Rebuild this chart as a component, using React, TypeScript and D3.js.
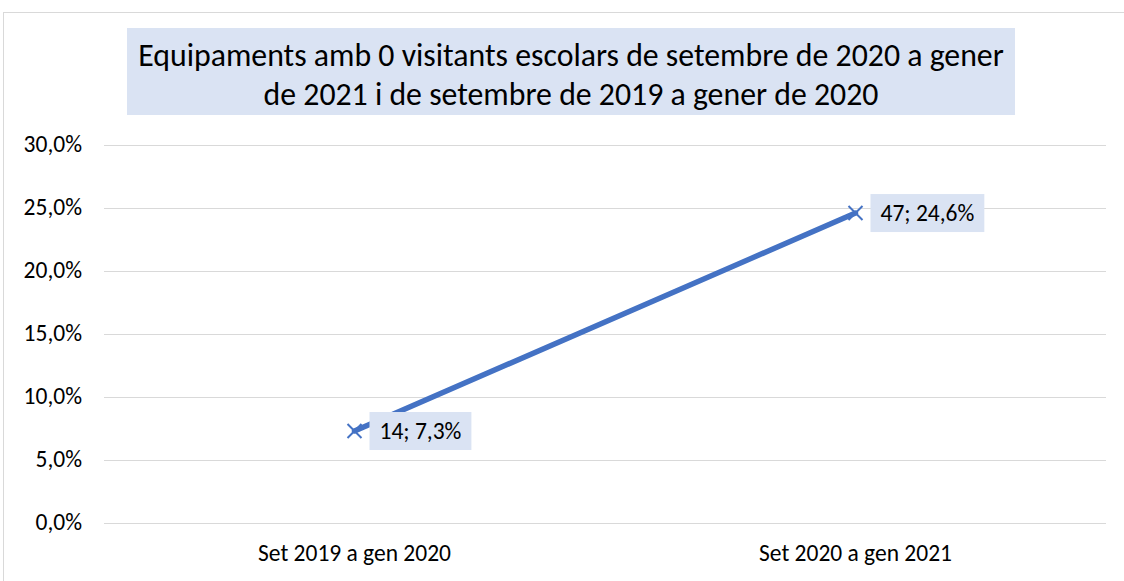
import React, { useEffect, useRef } from 'react';
import * as d3 from 'd3';

const categories = ['Set 2019 a gen 2020', 'Set 2020 a gen 2021'];
const counts = [14, 47];
const percents = [7.3, 24.6];
const yTicks = [0, 5, 10, 15, 20, 25, 30];
const titleLines = [
  'Equipaments amb 0 visitants escolars de setembre de 2020 a gener',
  'de 2021 i de setembre de 2019 a gener de 2020',
];

const W = 1124;
const H = 581;
const FONT = "Carlito, Calibri, 'Liberation Sans Narrow', 'Open Sans', sans-serif";
const fmt = (v: number) => v.toFixed(1).replace('.', ',') + '%';

function App() {
  const svgRef = useRef<SVGSVGElement>(null);

  useEffect(() => {
    const svg = d3.select(svgRef.current);
    svg.selectAll('*').remove();

    const margin = { top: 145, right: 18, bottom: 58, left: 104 };
    const x = d3.scaleBand().domain(categories).range([margin.left, W - margin.right]);
    const y = d3.scaleLinear().domain([0, 30]).range([H - margin.bottom, margin.top]);

    // chart border
    svg.append('rect')
      .attr('x', 3.5).attr('y', 12.5)
      .attr('width', W + 10).attr('height', H + 10)
      .attr('fill', '#fff').attr('stroke', '#d9d9d9');

    // title box
    svg.append('rect')
      .attr('x', 127).attr('y', 28).attr('width', 888).attr('height', 87)
      .attr('fill', '#dae3f3');
    svg.append('g').selectAll('text')
      .data(titleLines)
      .enter().append('text')
      .attr('x', 571)
      .attr('y', (d, i) => 66 + i * 39)
      .attr('text-anchor', 'middle')
      .attr('font-family', FONT)
      .attr('font-size', 31.8)
      .attr('fill', '#000')
      .text(d => d);

    // grid lines
    svg.append('g').selectAll('line')
      .data(yTicks)
      .enter().append('line')
      .attr('x1', margin.left).attr('x2', W - margin.right)
      .attr('y1', d => Math.round(y(d)) + 0.5).attr('y2', d => Math.round(y(d)) + 0.5)
      .attr('stroke', '#d9d9d9').attr('stroke-width', 1);

    // y labels
    svg.append('g').selectAll('text')
      .data(yTicks)
      .enter().append('text')
      .attr('x', 82)
      .attr('y', d => y(d) + 7)
      .attr('text-anchor', 'end')
      .attr('font-family', FONT)
      .attr('font-size', 23.5)
      .attr('fill', '#000')
      .text(d => fmt(d));

    // x labels
    svg.append('g').selectAll('text')
      .data(categories)
      .enter().append('text')
      .attr('x', d => (x(d) as number) + x.bandwidth() / 2)
      .attr('y', 561)
      .attr('text-anchor', 'middle')
      .attr('font-family', FONT)
      .attr('font-size', 23.5)
      .attr('fill', '#000')
      .text(d => d);

    const pts = categories.map((c, i) => ({
      cx: (x(c) as number) + x.bandwidth() / 2,
      cy: y(percents[i]),
      label: `${counts[i]}; ${fmt(percents[i])}`,
    }));

    // line
    const line = d3.line<{ cx: number; cy: number }>().x(d => d.cx).y(d => d.cy);
    svg.append('path')
      .datum(pts)
      .attr('d', line)
      .attr('fill', 'none')
      .attr('stroke', '#4472c4')
      .attr('stroke-width', 5.5)
      .attr('stroke-linecap', 'round');

    // markers (x shape)
    const s = 7;
    pts.forEach(p => {
      svg.append('path')
        .attr('d', `M${p.cx - s},${p.cy - s}L${p.cx + s},${p.cy + s}M${p.cx - s},${p.cy + s}L${p.cx + s},${p.cy - s}`)
        .attr('stroke', '#4472c4')
        .attr('stroke-width', 2);
    });

    // data labels
    pts.forEach(p => {
      const g = svg.append('g');
      const rect = g.append('rect').attr('fill', '#dae3f3');
      const t = g.append('text')
        .attr('x', p.cx + 25)
        .attr('y', p.cy + 8)
        .attr('font-family', FONT)
        .attr('font-size', 23.5)
        .attr('fill', '#000')
        .text(p.label);
      const w = (t.node() as SVGTextElement).getComputedTextLength();
      rect.attr('x', p.cx + 15).attr('y', p.cy - 19)
        .attr('width', w + 20).attr('height', 38);
    });
  }, []);

  return (
    <svg
      ref={svgRef}
      width={W}
      height={H}
      style={{ position: 'absolute', left: 0, top: 0, background: '#fff' }}
    />
  );
}

export default App;
